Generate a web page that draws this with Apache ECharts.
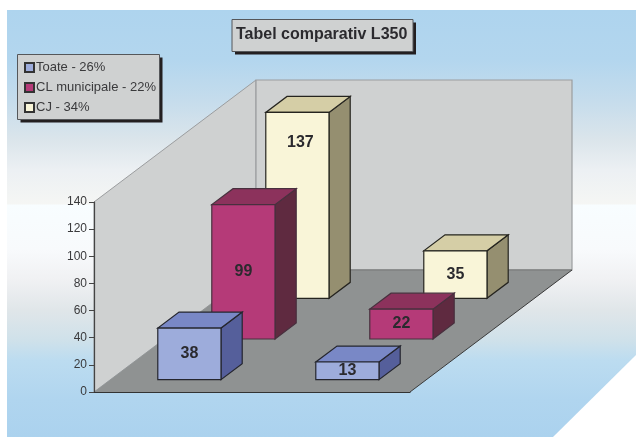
<!DOCTYPE html>
<html>
<head>
<meta charset="utf-8">
<style>
  html, body { margin: 0; padding: 0; background: #fff; }
  #chart { width: 636px; height: 437px; }
</style>
<script src="https://cdn.jsdelivr.net/npm/echarts@6/dist/echarts.min.js"></script>
</head>
<body>
<div id="chart"></div>
<script>
const categories = ["", ""];
const yTicks = [0, 140];
const toate = [38, 13];
const clMunicipale = [99, 22];
const cj = [137, 35];
const seriesNames = ["Toate - 26%", "CL municipale - 22%", "CJ - 34%"];

// 3d look: how far the back of the floor is pushed on screen
const depthX = 162;
const depthY = 122;
const barDepth = 0.131;
const barBand = 0.4;

const faces = [
  { front: "#9dacdb", top: "#7988c6", side: "#555f9b", line: "#25262e" },
  { front: "#b53a78", top: "#8c325c", side: "#5f2a40", line: "#48303e" },
  { front: "#f9f5d8", top: "#d5cea6", side: "#958f70", line: "#25241f" },
];

const shift = (p, d) => [p[0] + depthX * d, p[1] - depthY * d];
const poly = (points, fill, stroke, lineWidth) => ({
  type: "polygon",
  shape: { points: points },
  style: { fill: fill, stroke: stroke, lineWidth: lineWidth || 0 },
});

// plain box with a hard black shadow, used behind title and legend
const shadowBox = (x, y, w, h) => [
  { type: "rect", z: 1, shape: { x: x + 3, y: y + 3, width: w, height: h }, style: { fill: "#231f20" } },
  { type: "rect", z: 2, shape: { x: x, y: y, width: w, height: h }, style: { fill: "#cfd1d1", stroke: "#55575a", lineWidth: 1 } },
];

const renderWalls = (params, api) => {
  const band = api.size([1, 0])[0];
  const c0 = api.coord([0, 0]);
  const cTop = api.coord([0, yTicks[1]]);
  const fl = [c0[0] - band / 2, c0[1]];
  const fr = [fl[0] + band * 2, c0[1]];
  const tl = [fl[0], cTop[1]];
  const bl = shift(fl, 1);
  const br = shift(fr, 1);
  const btl = shift(tl, 1);
  const btr = [br[0], btl[1]];
  return {
    type: "group",
    children: [
      poly([tl, btl, bl, fl], "#cfd1d1", "#9b9d9f", 1),
      poly([btl, btr, br, bl], "#cfd1d1", "#9b9d9f", 1.2),
      poly([fl, fr, br, bl], "#8f9292"),
      { type: "line", shape: { x1: bl[0], y1: bl[1], x2: br[0], y2: br[1] }, style: { stroke: "#7f8181", lineWidth: 1.5 } },
      { type: "line", shape: { x1: fr[0], y1: fr[1], x2: br[0], y2: br[1] }, style: { stroke: "#3a3a3a", lineWidth: 1 } },
    ],
  };
};

const renderBar = (slot) => (params, api) => {
  const cat = api.value(0);
  const val = api.value(1);
  const w = api.size([1, 0])[0] * barBand;
  const base = api.coord([cat, 0]);
  const head = api.coord([cat, val]);
  const d = (slot + 0.5) / 3 - barDepth / 2;
  const a = shift([base[0] - w / 2, base[1]], d);
  const b = shift([base[0] + w / 2, base[1]], d);
  const c = shift([base[0] + w / 2, head[1]], d);
  const e = shift([base[0] - w / 2, head[1]], d);
  const f = faces[slot];
  // the 137 label sits high in the bar in the original
  const moved = val === cj[0];
  return {
    type: "group",
    children: [
      poly([b, c, shift(c, barDepth), shift(b, barDepth)], f.side, f.line, 1.2),
      poly([e, c, shift(c, barDepth), shift(e, barDepth)], f.top, f.line, 1.2),
      poly([a, b, c, e], f.front, f.line, 1.2),
      {
        type: "text",
        style: {
          x: (a[0] + b[0]) / 2 + (moved ? 3 : 0),
          y: (a[1] + c[1]) / 2 + (moved ? -63 : 0),
          text: String(val),
          fill: "#2b2a2e",
          font: "bold 16px 'Liberation Sans', Arial, sans-serif",
          align: "center",
          verticalAlign: "middle",
        },
      },
    ],
  };
};

const barSeries = (name, values, slot) => ({
  type: "custom",
  name: name,
  clip: false,
  z: 5 - slot,
  itemStyle: { color: faces[slot].front, borderColor: "#333", borderWidth: 1 },
  encode: { x: 0, y: 1 },
  data: values.map((v, i) => [i, v]),
  renderItem: renderBar(slot),
});

const myChart = echarts.init(document.getElementById("chart"), null, { renderer: "canvas" });
myChart.setOption({
  animation: false,
  backgroundColor: "#ffffff",
  textStyle: { fontFamily: "'Liberation Sans', Arial, sans-serif" },
  graphic: {
    elements: [
      {
        type: "rect",
        z: -10,
        shape: { x: 7, y: 10, width: 629, height: 427 },
        style: {
          fill: new echarts.graphic.LinearGradient(0, 0, 0, 1, [
            { offset: 0, color: "#aed4ee" },
            { offset: 0.117, color: "#b3d6ee" },
            { offset: 0.211, color: "#c5dcec" },
            { offset: 0.304, color: "#dbe5eb" },
            { offset: 0.375, color: "#ecf0f3" },
            { offset: 0.454, color: "#f5f6f4" },
            { offset: 0.457, color: "#f8fdff" },
            { offset: 0.562, color: "#f8fafc" },
            { offset: 0.632, color: "#f0f1f3" },
            { offset: 0.703, color: "#e0e6e9" },
            { offset: 0.773, color: "#cfe1ea" },
            { offset: 0.82, color: "#bcdcf0" },
            { offset: 0.913, color: "#b0d5ef" },
            { offset: 1, color: "#abd2ee" },
          ]),
        },
      },
      {
        type: "polygon",
        z: -9,
        shape: { points: [[553, 437], [636, 355], [636, 437]] },
        style: { fill: "#ffffff" },
      },
      ...shadowBox(232, 19.5, 181, 32),
      ...shadowBox(17.5, 54.5, 142, 65),
    ],
  },
  title: {
    text: "Tabel comparativ L350",
    left: 236,
    top: 27,
    padding: 0,
    textStyle: {
      fontFamily: "'Liberation Sans', Arial, sans-serif",
      fontSize: 16,
      fontWeight: "bold",
      color: "#2b2a2e",
    },
  },
  legend: {
    left: 17,
    top: 55,
    orient: "vertical",
    data: seriesNames,
    icon: "rect",
    itemWidth: 9,
    itemHeight: 9,
    itemGap: 7,
    padding: [6, 0, 0, 7],
    selectedMode: false,
    textStyle: {
      fontFamily: "'Liberation Sans', Arial, sans-serif",
      fontSize: 13,
      color: "#3a3a3c",
      padding: [0, 0, 0, -3],
      height: 14,
    },
  },
  grid: { left: 94, top: 202, width: 316, height: 190 },
  xAxis: {
    type: "category",
    data: categories,
    z: 10,
    axisLine: { lineStyle: { color: "#333", width: 1.2 } },
    axisTick: { show: false },
    axisLabel: { show: false },
  },
  yAxis: {
    type: "value",
    min: yTicks[0],
    max: yTicks[1],
    interval: 20,
    z: 10,
    splitLine: { show: false },
    axisLine: { show: true, lineStyle: { color: "#444", width: 1.2 } },
    axisTick: { show: true, length: 5, lineStyle: { color: "#444", width: 1 } },
    axisLabel: { fontSize: 12, color: "#3a3a3c", margin: 7, padding: [4, 0, 0, 0] },
  },
  series: [
    {
      type: "custom",
      name: "walls",
      clip: false,
      z: 1,
      silent: true,
      encode: { x: 0, y: 1 },
      data: [[0, 0]],
      renderItem: renderWalls,
    },
    barSeries(seriesNames[0], toate, 0),
    barSeries(seriesNames[1], clMunicipale, 1),
    barSeries(seriesNames[2], cj, 2),
  ],
});
</script>
</body>
</html>
